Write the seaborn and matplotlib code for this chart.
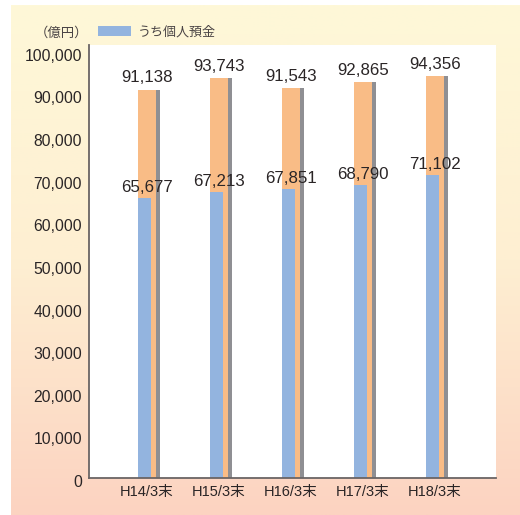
import numpy as np
import pandas as pd
import matplotlib
matplotlib.use("Agg")
import matplotlib.pyplot as plt
import matplotlib.transforms as mtransforms
from matplotlib.patches import Rectangle
from matplotlib.colors import LinearSegmentedColormap
import seaborn as sns

# Deposit balances (unit: 100 million yen)
periods = ["H14/3末", "H15/3末", "H16/3末", "H17/3末", "H18/3末"]
total_deposits = [91138, 93743, 91543, 92865, 94356]
personal_deposits = [65677, 67213, 67851, 68790, 71102]
y_ticks = [0, 10000, 20000, 30000, 40000, 50000, 60000, 70000, 80000, 90000, 100000]
unit_label = "（億円）"
legend_label = "うち個人預金"

sns.set_theme(style="white")
plt.rcParams["font.family"] = ["Liberation Sans", "Noto Sans CJK JP", "DejaVu Sans"]

ORANGE = "#F9BC86"
BLUE = "#93B4DF"
GREY = "#8F8F93"
TEXT = "#2A2526"
AXIS = "#6A6464"

W, H = 520, 515
fig = plt.figure(figsize=(W / 100, H / 100), dpi=100)
fig.patch.set_facecolor("white")

# Gradient panel behind the chart
bg = fig.add_axes([11 / W, 0, 1 - 11 / W, (H - 5) / H])
cmap = LinearSegmentedColormap.from_list("panel", ["#FEF8D8", "#FEEFD2", "#FCD3C1"])
grad = np.linspace(0, 1, 256).reshape(-1, 1)
bg.imshow(grad, aspect="auto", cmap=cmap, extent=[0, 1, 0, 1], origin="upper")
bg.set_axis_off()

ax = fig.add_axes([89 / W, (H - 478) / H, (496 - 89) / W, (478 - 45) / H])
ax.set_facecolor("white")

idx = np.arange(len(periods))
df = pd.DataFrame({
    "pos": idx,
    "total": total_deposits,
    "personal": personal_deposits,
})

# Shadow strip on the right of each total bar
shadow = df.assign(pos=df["pos"] + 0.1525)
sns.barplot(data=shadow, x="pos", y="total", native_scale=True, width=0.055,
            color=GREY, saturation=1, linewidth=0, ax=ax)
# Total deposits
sns.barplot(data=df, x="pos", y="total", native_scale=True, width=0.25,
            color=ORANGE, saturation=1, linewidth=0, ax=ax)
# Personal deposits, overlapping the left part of each total bar
personal = df.assign(pos=df["pos"] - 0.035)
sns.barplot(data=personal, x="pos", y="personal", native_scale=True, width=0.18,
            color=BLUE, saturation=1, linewidth=0, ax=ax)

for i, (t, p) in enumerate(zip(total_deposits, personal_deposits)):
    ax.annotate(f"{t:,}", (i, t), xytext=(0, 3), textcoords="offset points",
                ha="center", va="bottom", fontsize=12.2, color=TEXT)
    ax.annotate(f"{p:,}", (i, p), xytext=(0, 2), textcoords="offset points",
                ha="center", va="bottom", fontsize=12.2, color=TEXT)

ax.set_xlim(-0.806, 4.847)
ax.set_ylim(0, 101600)
ax.set_xticks(idx)
ax.set_xticklabels(periods)
ax.set_yticks(y_ticks)
ax.set_yticklabels([f"{v:,}" for v in y_ticks])
ax.set_xlabel("")
ax.set_ylabel("")
ax.tick_params(axis="y", length=0, pad=5, labelsize=11.3, labelcolor=TEXT)
ax.tick_params(axis="x", length=0, pad=5, labelsize=10.5, labelcolor=TEXT)
shift = mtransforms.ScaledTranslation(0, -3 / 100, fig.dpi_scale_trans)
for lbl in ax.get_yticklabels():
    lbl.set_transform(lbl.get_transform() + shift)

for side in ("top", "right"):
    ax.spines[side].set_visible(False)
for side in ("left", "bottom"):
    ax.spines[side].set_color(AXIS)
    ax.spines[side].set_linewidth(1.3)
ax.grid(False)

# Unit and legend above the plot area
fig.text(61 / W, 1 - 33 / H, unit_label, ha="center", va="center",
         fontsize=9.6, color="#4A4445")
fig.patches.append(Rectangle((98 / W, 1 - 36 / H), 33 / W, 10 / H,
                             transform=fig.transFigure, facecolor=BLUE,
                             edgecolor="none"))
fig.text(138 / W, 1 - 32 / H, legend_label, ha="left", va="center",
         fontsize=9.4, color="#4A4445")

fig.savefig("out.png", dpi=100, facecolor=fig.get_facecolor())
